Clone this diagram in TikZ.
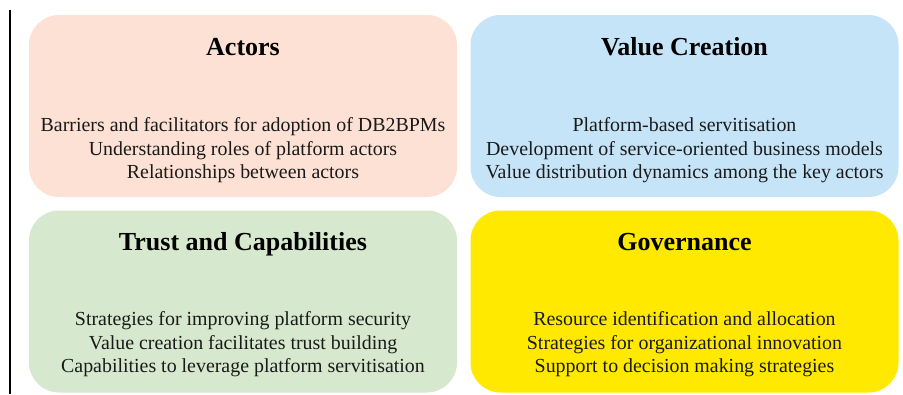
\documentclass[tikz,border=0pt]{standalone}
\usepackage{fontspec}
\setmainfont{Liberation Serif}
\definecolor{actorsfill}{HTML}{FDE1D4}
\definecolor{valuefill}{HTML}{C6E4F8}
\definecolor{trustfill}{HTML}{D6E8CD}
\definecolor{govfill}{HTML}{FFE900}
\definecolor{bodytext}{HTML}{1A1A1A}
\begin{document}
\begin{tikzpicture}[x=1pt,y=-1pt,
  panel/.style={rectangle, rounded corners=30pt, minimum width=428pt,
    minimum height=182pt, inner sep=0pt, draw=none},
  paneltitle/.style={font=\fontsize{26}{30}\selectfont\bfseries, inner sep=0pt,
    anchor=base},
  panelbody/.style={font=\fontsize{19.9}{23.4}\selectfont, text=bodytext,
    align=center, inner sep=0pt}]
  \useasboundingbox (0,0) rectangle (903,394);
  % left rule
  \coordinate (ruletop) at (10,10);
  \coordinate (rulebot) at (10,394);
  \draw[line width=1.3pt] (ruletop) -- (rulebot);

  % four panels
  \node[panel, fill=actorsfill] (actors) at (243,106) {};
  \node[panel, fill=valuefill] (value) at (684.5,106) {};
  \node[panel, fill=trustfill] (trust) at (243,301.5) {};
  \node[panel, fill=govfill] (gov) at (684.5,301.5) {};

  % titles
  \node[paneltitle] (actorsT) at (243,55) {Actors};
  \node[paneltitle] (valueT) at (684.5,55) {Value Creation};
  \node[paneltitle] (trustT) at (243,250.5) {Trust and Capabilities};
  \node[paneltitle] (govT) at (684.5,250.5) {Governance};

  % item lists
  \node[panelbody] (actorsB) at (243,150.5) {Barriers and facilitators for adoption of DB2BPMs\\
    Understanding roles of platform actors\\ Relationships between actors};
  \node[panelbody] (valueB) at (684.5,150.5) {Platform-based servitisation\\
    Development of service-oriented business models\\
    Value distribution dynamics among the key actors};
  \node[panelbody] (trustB) at (243,344.5) {Strategies for improving platform security\\
    Value creation facilitates trust building\\
    Capabilities to leverage platform servitisation};
  \node[panelbody] (govB) at (684.5,344.5) {Resource identification and allocation\\
    Strategies for organizational innovation\\
    Support to decision making strategies};
\end{tikzpicture}
\end{document}
